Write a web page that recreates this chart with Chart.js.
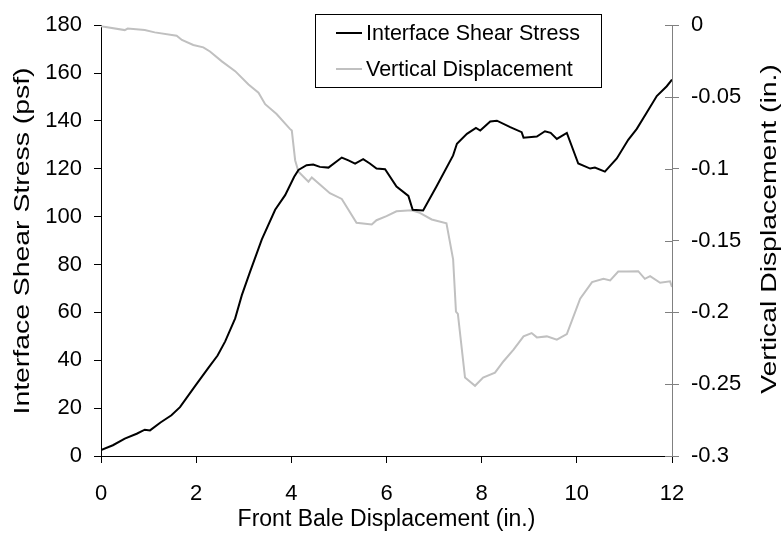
<!DOCTYPE html>
<html>
<head>
<meta charset="utf-8">
<script src="https://cdn.jsdelivr.net/npm/chart.js@4"></script>
<style>
  html, body { margin: 0; padding: 0; background: #fff; }
  canvas { display: block; }
</style>
</head>
<body>
<canvas id="baleChart" width="781" height="534"></canvas>
<script>
// front bale displacement (in.) vs interface shear stress (psf)
const shearX = [0, 0.25, 0.5, 0.75, 0.92, 1.03, 1.25, 1.48, 1.66, 1.98, 2.26, 2.45, 2.61, 2.82, 2.96, 3.13, 3.38, 3.66, 3.87, 4.06,
  4.15, 4.32, 4.46, 4.6, 4.78, 5.06, 5.2, 5.34, 5.51, 5.65, 5.79, 5.97, 6.21, 6.46, 6.55, 6.77, 7.05, 7.4, 7.48, 7.69,
  7.88, 7.97, 8.18, 8.32, 8.6, 8.84, 8.88, 9.16, 9.33, 9.45, 9.58, 9.79, 10.03, 10.28, 10.38, 10.59, 10.84, 11.08, 11.26, 11.47,
  11.68, 11.89, 12];
const shearStress = [2.5, 4.5, 7.3, 9.3, 11, 10.7, 14, 17, 20.4, 29.3, 36.9, 42, 47.9, 57.5, 67.2, 76.8, 90.5, 102.9, 109, 116.7,
  119.5, 121.5, 121.8, 120.8, 120.5, 124.7, 123.5, 122.2, 124, 122.2, 120.1, 119.8, 112.6, 108.7, 102.9, 102.6, 112.6, 125.6, 130.5, 134.6,
  137.1, 136, 139.8, 140.1, 137.4, 135.3, 133, 133.5, 135.7, 135, 132.5, 135, 122.2, 120.1, 120.5, 118.8, 124.3, 132.1, 136.7, 143.5,
  150.4, 154.5, 157.3];

// front bale displacement (in.) vs vertical displacement (in.)
const vertX = [0, 0.5, 0.56, 0.92, 1.13, 1.59, 1.7, 1.94, 2.15, 2.29, 2.54, 2.82, 3.1, 3.31, 3.45, 3.69, 3.97, 4.01, 4.08, 4.15,
  4.36, 4.43, 4.6, 4.81, 5.06, 5.37, 5.69, 5.79, 6.0, 6.21, 6.53, 6.7, 6.95, 7.26, 7.4, 7.46, 7.5, 7.65, 7.86, 8.03,
  8.28, 8.46, 8.67, 8.88, 9.05, 9.16, 9.37, 9.58, 9.79, 10.07, 10.32, 10.56, 10.7, 10.87, 11.05, 11.29, 11.43, 11.54, 11.75, 11.96,
  12];
const vertDisp = [-0.0007, -0.0034, -0.0023, -0.0034, -0.005, -0.0073, -0.0103, -0.0138, -0.0154, -0.0183, -0.0252, -0.032, -0.0413, -0.047, -0.055, -0.0619, -0.0722, -0.0734, -0.094, -0.102,
  -0.109, -0.106, -0.111, -0.117, -0.121, -0.1376, -0.1388, -0.1358, -0.133, -0.1296, -0.1289, -0.1307, -0.1353, -0.138, -0.163, -0.1995, -0.201, -0.2454, -0.2511, -0.2454,
  -0.242, -0.234, -0.2259, -0.2167, -0.2144, -0.2174, -0.2167, -0.219, -0.2151, -0.1904, -0.1789, -0.1766, -0.1777, -0.1716, -0.1716, -0.1713, -0.1766, -0.1748, -0.1794, -0.1784,
  -0.1823];

const leftTitle = 'Interface Shear Stress (psf)';
const rightTitle = 'Vertical Displacement (in.)';
const bottomTitle = 'Front Bale Displacement (in.)';

const FONT = 'Liberation Sans, Arial, sans-serif';

function toPoints(xs, ys) {
  return xs.map((x, i) => ({ x: x, y: ys[i] }));
}

// rotated titles (both read bottom to top, a little stretched like the original)
function drawSideTitle(ctx, text, x, y) {
  ctx.save();
  ctx.translate(x, y);
  ctx.rotate(-Math.PI / 2);
  ctx.scale(1.29, 1);
  ctx.font = '22px ' + FONT;
  ctx.fillStyle = '#000';
  ctx.textAlign = 'center';
  ctx.textBaseline = 'middle';
  ctx.fillText(text, 0, 0);
  ctx.restore();
}

// right axis ticks cross the axis line; side titles
const axisExtras = {
  id: 'axisExtras',
  afterDraw(chart) {
    const ctx = chart.ctx;
    const scale = chart.scales.y2;
    ctx.save();
    ctx.strokeStyle = '#808080';
    ctx.lineWidth = 1;
    scale.ticks.forEach(t => {
      const y = Math.round(scale.getPixelForValue(t.value)) + 0.5;
      ctx.beginPath();
      ctx.moveTo(scale.left - 7, y);
      ctx.lineTo(scale.left, y);
      ctx.stroke();
    });
    ctx.restore();
    drawSideTitle(ctx, leftTitle, 23, 241);
    drawSideTitle(ctx, rightTitle, 770, 229);
  }
};

// boxed legend inside the plot
const boxLegend = {
  id: 'boxLegend',
  afterDraw(chart) {
    const ctx = chart.ctx;
    ctx.save();
    ctx.fillStyle = '#fff';
    ctx.fillRect(315, 14, 286, 73);
    ctx.strokeStyle = '#000';
    ctx.lineWidth = 1;
    ctx.strokeRect(315.5, 14.5, 286, 73);
    ctx.font = '21.5px ' + FONT;
    ctx.textBaseline = 'middle';
    chart.data.datasets.forEach((ds, i) => {
      const y = 33 + i * 36;
      ctx.strokeStyle = ds.borderColor;
      ctx.lineWidth = 2;
      ctx.beginPath();
      ctx.moveTo(336, y);
      ctx.lineTo(362, y);
      ctx.stroke();
      ctx.fillStyle = '#000';
      ctx.fillText(ds.label, 366, y + 1);
    });
    ctx.restore();
  }
};

new Chart(document.getElementById('baleChart').getContext('2d'), {
  type: 'line',
  data: {
    datasets: [{
      label: 'Interface Shear Stress',
      data: toPoints(shearX, shearStress),
      borderColor: '#000000',
      borderWidth: 2,
      pointRadius: 0,
      tension: 0,
      yAxisID: 'y'
    }, {
      label: 'Vertical Displacement',
      data: toPoints(vertX, vertDisp),
      borderColor: '#c0c0c0',
      borderWidth: 2,
      pointRadius: 0,
      tension: 0,
      yAxisID: 'y2'
    }]
  },
  options: {
    responsive: false,
    animation: false,
    layout: { padding: { top: 20, bottom: 0, left: 0, right: 0 } },
    plugins: {
      legend: { display: false },
      tooltip: { enabled: false }
    },
    scales: {
      x: {
        type: 'linear',
        min: 0,
        max: 12,
        ticks: { stepSize: 2, color: '#000', font: { family: FONT, size: 22 }, padding: 18, maxRotation: 0 },
        grid: { drawOnChartArea: false, tickLength: 7, tickColor: '#000' },
        border: { color: '#000', width: 1 },
        title: { display: true, text: bottomTitle, color: '#000', font: { family: FONT, size: 23 }, padding: { top: 0, bottom: 1 } },
        afterFit(scale) { scale.height = 78; }
      },
      y: {
        position: 'left',
        min: 0,
        max: 180,
        ticks: { stepSize: 20, color: '#000', font: { family: FONT, size: 22 }, padding: 12 },
        grid: { drawOnChartArea: false, tickLength: 7, tickColor: '#000' },
        border: { color: '#000', width: 1 },
        title: { display: false },
        afterFit(scale) { scale.width = 101; }
      },
      y2: {
        position: 'right',
        min: -0.3,
        max: 0,
        ticks: { stepSize: 0.05, color: '#000', font: { family: FONT, size: 22 }, padding: 12,
          callback: v => String(Math.round(v * 100) / 100) },
        grid: { drawOnChartArea: false, tickLength: 7, tickColor: '#808080' },
        border: { color: '#808080', width: 1 },
        title: { display: false },
        afterFit(scale) { scale.width = 109; }
      }
    }
  },
  plugins: [axisExtras, boxLegend]
});
</script>
</body>
</html>
